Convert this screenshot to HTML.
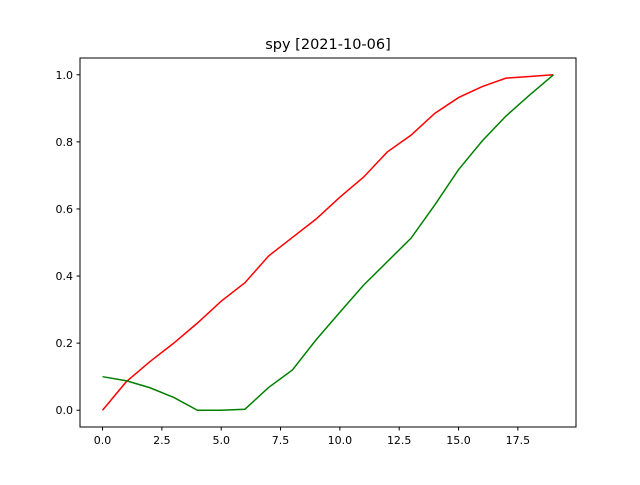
<!DOCTYPE html>
<html><head><meta charset="utf-8"><style>
body{margin:0;background:#fff;}
svg text{font-family:"DejaVu Sans","Liberation Sans",sans-serif;}
</style></head><body>
<svg id="chart" width="640" height="480" xmlns="http://www.w3.org/2000/svg">
<rect width="640" height="480" fill="#fff"/>
<text x="328" y="49" font-size="14.5" text-anchor="middle">spy [2021-10-06]</text>
<g id="plot"></g>
<rect x="80" y="58" width="496" height="369" fill="none" stroke="#000" stroke-width="1"/>
</svg>
<script>
const redSeries=[0,0.085,0.145,0.2,0.26,0.325,0.38,0.46,0.515,0.57,0.635,0.695,0.77,0.82,0.885,0.932,0.965,0.99,0.995,1.0];
const greenSeries=[0.1,0.088,0.067,0.038,0.0,0.0,0.003,0.068,0.12,0.21,0.292,0.373,0.443,0.513,0.612,0.717,0.803,0.877,0.94,1.0];
const xTicks=[0,2.5,5,7.5,10,12.5,15,17.5];
const xTickLabels=["0.0","2.5","5.0","7.5","10.0","12.5","15.0","17.5"];
const yTicks=[0,0.2,0.4,0.6,0.8,1.0];
const yTickLabels=["0.0","0.2","0.4","0.6","0.8","1.0"];

const NS="http://www.w3.org/2000/svg";
const g=document.getElementById('plot');
const xMin=-0.95,xMax=19.95,yMin=-0.05,yMax=1.05;
const X=v=>80+(v-xMin)/(xMax-xMin)*496;
const Y=v=>427-(v-yMin)/(yMax-yMin)*369;
function mk(t,a){const e=document.createElementNS(NS,t);for(const k in a)e.setAttribute(k,a[k]);g.appendChild(e);return e;}
xTicks.forEach((t,i)=>{
  const l=mk('line',{x1:X(t),x2:X(t),y1:427,y2:430.5,stroke:'#000'});
  
  
  const tx=mk('text',{x:X(t),y:444,'font-size':'11','text-anchor':'middle'});
  tx.textContent=xTickLabels[i];
  
  
});
yTicks.forEach((t,i)=>{
  const l=mk('line',{x1:76.5,x2:80,y1:Y(t),y2:Y(t),stroke:'#000'});
  
  
  const tx=mk('text',{x:73,y:Y(t)+4,'font-size':'11','text-anchor':'end'});
  tx.textContent=yTickLabels[i];
  
  
});
function line(data,color,name){
  const p=mk('polyline',{points:data.map((v,i)=>X(i)+','+Y(v)).join(' '),fill:'none',stroke:color,'stroke-width':'1.5'});
  
  
}
line(redSeries,'#ff0000','red-series-line');
line(greenSeries,'#008000','green-series-line');
</script>
</body></html>
